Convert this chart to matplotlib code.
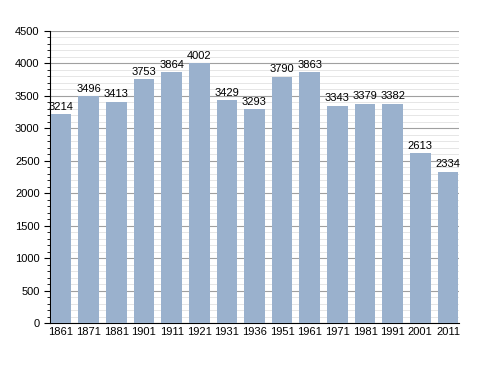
import numpy as np
import matplotlib.pyplot as plt
from matplotlib.ticker import MultipleLocator

plt.rcParams['font.family'] = ['Liberation Sans', 'DejaVu Sans']

years = ['1861', '1871', '1881', '1901', '1911', '1921', '1931', '1936',
         '1951', '1961', '1971', '1981', '1991', '2001', '2011']
population = [3214, 3496, 3413, 3753, 3864, 4002, 3429, 3293,
              3790, 3863, 3343, 3379, 3382, 2613, 2334]

fig = plt.figure(figsize=(4.88, 3.73), dpi=100)
ax = fig.add_axes([50 / 488, 50 / 373, 409 / 488, 292 / 373])

x = np.arange(len(years))
ax.bar(x, population, width=0.75, color='#9ab1cd', zorder=3)

# value labels above bars
for xi, v in zip(x, population):
    ax.text(xi, v + 40, str(v), ha='center', va='bottom', fontsize=8, zorder=4)

ax.set_xlim(-0.4, len(years) - 0.6)
ax.set_ylim(0, 4500)
ax.set_xticks(x)
ax.set_xticklabels(years, fontsize=8)
ax.yaxis.set_major_locator(MultipleLocator(500))
ax.yaxis.set_minor_locator(MultipleLocator(100))
ax.tick_params(axis='y', labelsize=8, length=4, width=0.8)
ax.tick_params(axis='y', which='minor', length=2, width=0.6)
ax.tick_params(axis='x', length=0, pad=3)

ax.grid(axis='y', which='major', color='#a0a0a0', linewidth=0.8, zorder=0)
ax.grid(axis='y', which='minor', color='#e2e2e2', linewidth=0.6, zorder=0)

for s in ['top', 'right']:
    ax.spines[s].set_visible(False)
ax.spines['left'].set_color('black')
ax.spines['bottom'].set_color('black')

fig.savefig('out.png', dpi=100)
